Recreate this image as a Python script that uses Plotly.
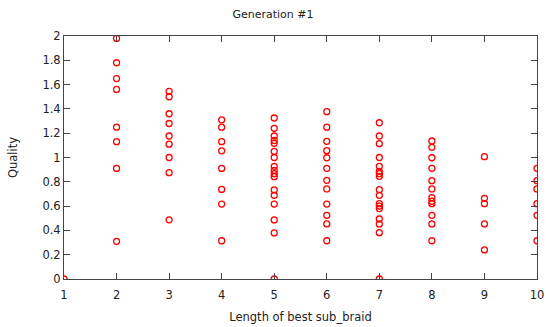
import plotly.graph_objects as go

# Quality values per sub-braid length
lengths = [1, 2, 3, 4, 5, 6, 7, 8, 9, 10]
quality = {
    1: [0.0],
    2: [1.98, 1.78, 1.65, 1.56, 1.25, 1.13, 0.91, 0.31],
    3: [1.545, 1.50, 1.36, 1.28, 1.177, 1.11, 1.0, 0.875, 0.487],
    4: [1.31, 1.25, 1.13, 1.055, 0.91, 0.737, 0.617, 0.315],
    5: [1.325, 1.24, 1.177, 1.14, 1.117, 1.05, 1.0, 0.927, 0.894, 0.867, 0.842,
        0.733, 0.689, 0.617, 0.486, 0.379, 0.0],
    6: [1.377, 1.25, 1.133, 1.056, 0.998, 0.911, 0.812, 0.741, 0.617, 0.524,
        0.453, 0.315],
    7: [1.286, 1.177, 1.114, 1.0, 0.927, 0.886, 0.867, 0.845, 0.735, 0.689,
        0.62, 0.60, 0.58, 0.494, 0.453, 0.381, 0.0],
    8: [1.136, 1.084, 0.998, 0.911, 0.809, 0.741, 0.669, 0.64, 0.62, 0.524,
        0.453, 0.315],
    9: [1.007, 0.664, 0.62, 0.453, 0.239],
    10: [0.911, 0.809, 0.741, 0.62, 0.524, 0.315],
}

xs, ys = [], []
for L in lengths:
    for q in quality[L]:
        xs.append(L)
        ys.append(q)

x_ticks = [1, 2, 3, 4, 5, 6, 7, 8, 9, 10]
y_ticks = [0, 0.2, 0.4, 0.6, 0.8, 1, 1.2, 1.4, 1.6, 1.8, 2]

fig = go.Figure(go.Scatter(
    x=xs, y=ys, mode="markers",
    marker=dict(symbol="circle-open", size=6, color="red",
                line=dict(width=1.3, color="red")),
    showlegend=False,
))

font = dict(family="DejaVu Sans", size=11.5, color="#222")
axis_common = dict(
    showgrid=False, zeroline=False, showline=True, linecolor="#444",
    linewidth=1, mirror="ticks", ticks="inside", ticklen=6, tickcolor="#444",
    tickfont=font, ticklabeloverflow="allow",
)
fig.update_layout(
    width=546, height=327,
    margin=dict(l=64, r=2, t=36, b=48),
    paper_bgcolor="white", plot_bgcolor="white",
    font=font,
    title=dict(text="Generation #1", x=0.5, xanchor="center",
               y=1 - 14 / 327, yanchor="middle", yref="container",
               font=dict(family="DejaVu Sans", size=11, color="#222")),
    xaxis=dict(range=[1, 10], tickvals=x_ticks, ticklabelstandoff=5,
               title=dict(text="Length of best sub_braid", standoff=12,
                          font=font), **axis_common),
    yaxis=dict(range=[0, 2], tickvals=y_ticks,
               title=dict(text="Quality", standoff=22, font=font),
               **axis_common),
)

fig.write_html("out.html")
